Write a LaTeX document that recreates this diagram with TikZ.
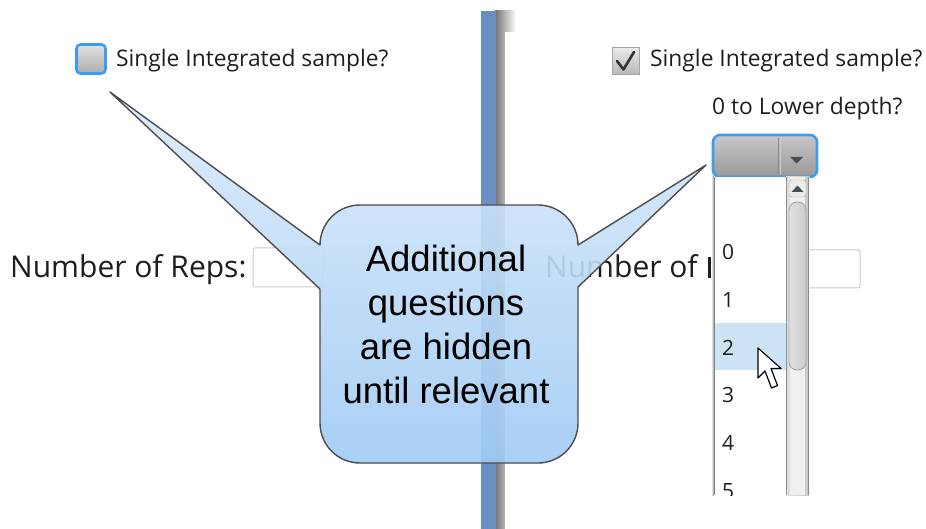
\documentclass[tikz,border=0pt]{standalone}
\usepackage{fontspec}
\setmainfont{Open Sans}
\newfontfamily\bubblefont{Liberation Sans}
\usetikzlibrary{shapes.geometric}
\definecolor{uitext}{HTML}{1E1E1E}
\definecolor{focusblue}{HTML}{3D9CF0}
\definecolor{splitblue}{HTML}{6A8FC3}
\definecolor{bubbletop}{HTML}{DCEBFB}
\definecolor{bubblebot}{HTML}{A0CBF5}
\definecolor{pickblue}{HTML}{CCE3F3}
\tikzset{
  uilabel/.style={font=\fontsize{22.8}{27}\selectfont, text=uitext, inner sep=0pt, anchor=base west},
  biglabel/.style={font=\fontsize{30}{35}\selectfont, text=uitext, inner sep=0pt, anchor=base west},
  listitem/.style={font=\fontsize{21}{25}\selectfont, text=uitext, inner sep=0pt, anchor=base west},
  entrybox/.style={draw=black!20, fill=white, rounded corners=2pt, line width=1pt},
  bubbleline/.style={draw=black!70, line width=1.4pt, line join=round},
}
\begin{document}
\begin{tikzpicture}[x=1pt,y=-1pt]
\useasboundingbox (0,0) rectangle (926,529);
\fill[white] (0,0) rectangle (926,529);

% ---- splitter between the two panels ----
\shade[left color=black!55, right color=white] (495,11) rectangle (516,529);
\fill[white] (505,32) rectangle (926,529);
\fill[splitblue] (481,11) rectangle (496,529);

% ---- left panel ----
\node[draw=focusblue, line width=2.6pt, rounded corners=4pt, minimum width=29pt, minimum height=29pt,
      top color=black!12, bottom color=black!32] (cbL) at (91,59) {};
\node[uilabel] (lblL) at (116,67) {Single Integrated sample?};
\node[biglabel] (repsL) at (10,278) {Number of Reps:};
\draw[entrybox] (253,248) rectangle (323,287);

% ---- right panel ----
\node[draw=black!35, line width=1pt, minimum width=27pt, minimum height=27pt,
      top color=black!8, bottom color=black!28] (cbR) at (626,61) {};
\draw[black!80, line width=2.6pt, line cap=round, line join=round]
  (617,61) -- (623.5,69.5) -- (634,52);
\node[uilabel] (lblR) at (650,67) {Single Integrated sample?};
\node[uilabel] (depth) at (712,115) {0 to Lower depth?};
\node[biglabel] (repsR) at (545,278) {Number of};
% stem of the next letter, cut off by the open list
\fill[uitext] (707.5,257.5) rectangle (710.5,278);
\draw[entrybox] (788,250) rectangle (860,288);

% combo box
\draw[focusblue, line width=2.6pt, rounded corners=7pt, top color=black!22, bottom color=black!40]
  (713,135) rectangle (817,177);
\draw[black!45, line width=1pt] (778.5,138) -- (778.5,175);
\draw[white!80!black, line width=0.8pt] (780,138) -- (780,175);
\fill[black!70] (790,157) -- (803,157) -- (796.5,163.5) -- cycle;

% drop-down list
\shade[left color=white, right color=black!40] (711,177) rectangle (714,495);
\fill[white] (714,177) rectangle (810,495);
\draw[black!50, line width=1pt] (714,177) -- (714,495);
\fill[pickblue] (715,323) rectangle (786,370);
\shade[left color=black!12, right color=black!22] (786,177) rectangle (809,495);
\fill[black!6] (790,177) rectangle (805,495);
\draw[black!45, line width=1pt] (786,177) -- (786,495) (808.5,177) -- (808.5,495);
\draw[black!35, fill=black!8, rounded corners=3pt] (789,180) rectangle (806,197);
\fill[black!70] (791.5,192) -- (803.5,192) -- (797.5,185.5) -- cycle;
\draw[black!35, line width=0.9pt, rounded corners=8pt, left color=black!12, right color=black!20]
  (789,202) rectangle (806,370);
\begin{scope}
  \clip (714,177) rectangle (786,495);
  \foreach \n [count=\i from 0] in {0,1,2,3,4,5}
    \node[listitem] (item\n) at (722,{260+47.6*\i}) {\n};
\end{scope}

% mouse pointer
\draw[black, fill=white, line width=1.2pt, line join=round]
  (758,348) -- (758,378) -- (765,371) -- (771.5,388) -- (777.5,385.5) -- (771,368.5) -- (781,368.5) -- cycle;

% ---- callout ----
\coordinate (tipL) at (110,92);
\coordinate (tipR) at (706,165);
\path[bubbleline, top color=bubbletop, bottom color=bubblebot, fill opacity=0.9]
  (360,205) -- (538,205) arc[start angle=-90, end angle=0, radius=40]
  -- (tipR) -- (578,287) -- (578,423) arc[start angle=0, end angle=90, radius=40]
  -- (360,463) arc[start angle=90, end angle=180, radius=40]
  -- (320,289) -- (tipL) -- (320,245) arc[start angle=180, end angle=270, radius=40] -- cycle;
\node[font=\bubblefont\fontsize{36.5}{44}\selectfont, align=center, inner sep=0pt, text=black]
  (note) at (446,324) {Additional\\questions\\are hidden\\until relevant};
\end{tikzpicture}
\end{document}
